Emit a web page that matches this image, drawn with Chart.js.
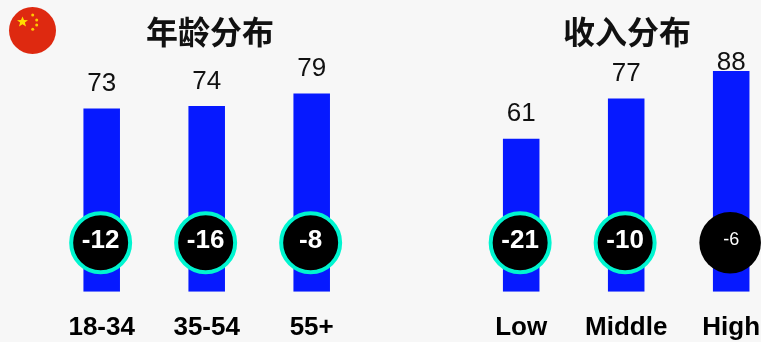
<!DOCTYPE html>
<html>
<head>
<meta charset="utf-8">
<script src="https://cdn.jsdelivr.net/npm/chart.js@4"></script>
<style>
html, body { margin: 0; padding: 0; background: #f7f7f7; overflow: hidden; width: 761px; height: 342px; }
canvas { position: absolute; top: 0; }
#flag { position: absolute; left: 0; top: 0; }
</style>
</head>
<body>
<canvas id="ageChart" width="400" height="342" style="left:0"></canvas>
<canvas id="incomeChart" width="440" height="342" style="left:400px"></canvas>
<svg id="flag" width="70" height="60">
  <circle cx="32.5" cy="30.5" r="23.5" fill="#de2910"/>
  <polygon fill="#ffde00" points="22.5,16.5 24,20 28,20.2 24.9,22.6 26,26.5 22.5,24.3 19,26.5 20.1,22.6 17,20.2 21,20"/>
  <circle cx="32.7" cy="15" r="1.5" fill="#ffc800"/>
  <circle cx="36.7" cy="20" r="1.5" fill="#ffc800"/>
  <circle cx="36.7" cy="25" r="1.5" fill="#ffc800"/>
  <circle cx="32.7" cy="29.3" r="1.5" fill="#ffc800"/>
</svg>
<script>
const ageLabels = ['18-34', '35-54', '55+'];
const ageValues = [73, 74, 79];
const ageChanges = [-12, -16, -8];
const ageRinged = [true, true, true];

const incomeLabels = ['Low', 'Middle', 'High'];
const incomeValues = [61, 77, 88];
const incomeChanges = [-21, -10, -6];
const incomeRinged = [true, true, false];

// height on the y axis where the change badges sit
const badgeLevel = 19.5;
const sansFont = '"Liberation Sans", Arial, sans-serif';

// writes the value above each bar and the change inside each badge
const textPlugin = {
    id: 'textPlugin',
    afterLayout(chart) {
        // the titles sit a little right of the middle of the bars
        chart.titleBlock.left += chart.options.plugins.textPlugin.titleShift;
    },
    afterDatasetsDraw(chart) {
        const ctx = chart.ctx;
        const bars = chart.getDatasetMeta(0).data;
        const badges = chart.getDatasetMeta(1).data;
        const opts = chart.options.plugins.textPlugin;
        ctx.save();
        ctx.textAlign = 'center';
        ctx.textBaseline = 'alphabetic';
        bars.forEach(function (bar, i) {
            ctx.fillStyle = '#111';
            ctx.font = '26px ' + sansFont;
            ctx.fillText(opts.values[i], bar.x, Math.max(bar.y - 17.6, 69.5));
            ctx.fillStyle = '#fff';
            if (opts.ringed[i]) {
                ctx.font = 'bold 26px ' + sansFont;
                ctx.fillText(opts.changes[i], badges[i].x, badges[i].y + 5.6);
            } else {
                ctx.font = '18px ' + sansFont;
                ctx.fillText(opts.changes[i], bar.x, badges[i].y + 2.5);
            }
        });
        ctx.restore();
    }
};

function makeChart(id, title, labels, values, changes, ringed, padLeft, padRight, titleShift) {
    new Chart(document.getElementById(id), {
        type: 'bar',
        data: {
            labels: labels,
            datasets: [{
                data: values,
                backgroundColor: '#0619ff',
                barPercentage: 0.348,
                categoryPercentage: 1,
                grouped: false,
                order: 2
            }, {
                type: 'scatter',
                xAxisID: 'xBadge',
                data: changes.map(function (c, i) { return { x: i, y: badgeLevel }; }),
                backgroundColor: '#000',
                borderColor: '#00f5d0',
                borderWidth: ringed.map(function (r) { return r ? 4 : 0; }),
                pointRadius: ringed.map(function (r) { return r ? 29.5 : 30.8; }),
                clip: false,
                order: 1
            }]
        },
        options: {
            responsive: false,
            animation: false,
            layout: { padding: { left: padLeft, right: padRight, top: 0, bottom: -13.9 } },
            plugins: {
                legend: { display: false },
                tooltip: { enabled: false },
                title: {
                    display: true,
                    text: title,
                    color: '#111',
                    font: { family: '"Noto Sans CJK SC", sans-serif', size: 32, weight: 'bold', lineHeight: 1.2 },
                    padding: { top: 12.8, bottom: 19.8 }
                },
                textPlugin: { values: values, changes: changes, ringed: ringed, titleShift: titleShift }
            },
            scales: {
                x: {
                    grid: { display: false },
                    border: { display: false },
                    ticks: {
                        color: '#000',
                        font: { family: sansFont, size: 26, weight: 'bold', lineHeight: 1.2 },
                        padding: 12.5,
                        maxRotation: 0,
                        autoSkip: false
                    }
                },
                xBadge: { type: 'linear', display: false, offset: false, min: -0.49, max: 2.51 },
                y: { display: false, min: 0, max: 88 }
            }
        },
        plugins: [textPlugin]
    });
}

makeChart('ageChart', '年龄分布', ageLabels, ageValues, ageChanges, ageRinged, 49.2, 35.8, 6.6);
makeChart('incomeChart', '收入分布', incomeLabels, incomeValues, incomeChanges, incomeRinged, 68.7, 56.3, 1.8);
</script>
</body>
</html>
